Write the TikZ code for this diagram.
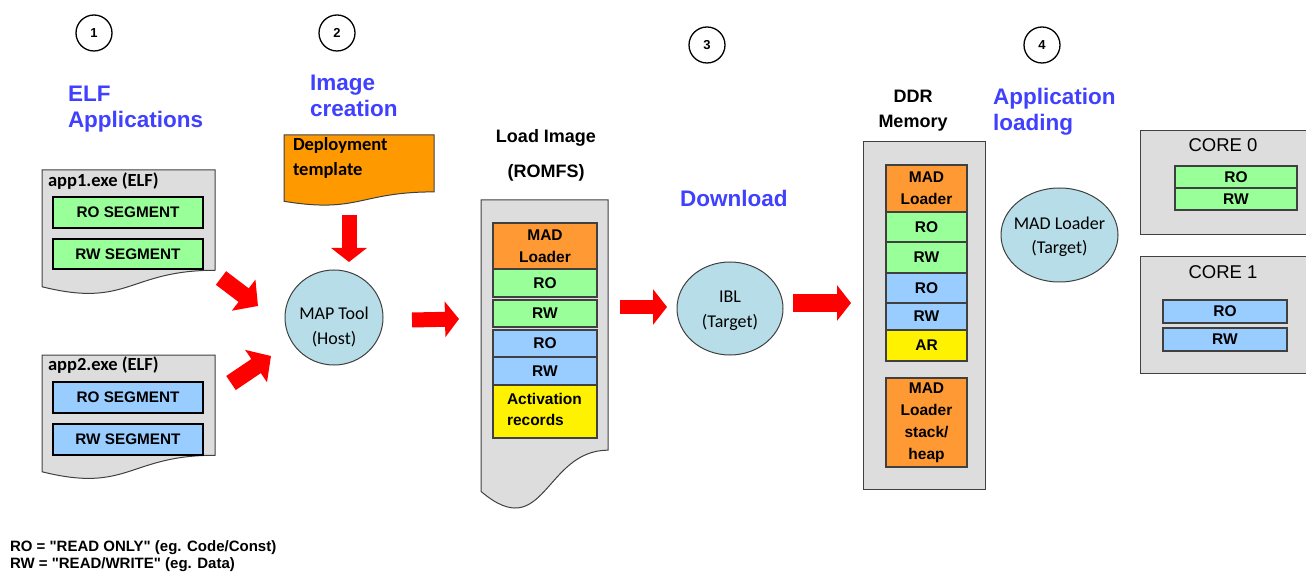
\documentclass[tikz,border=0pt]{standalone}
\usepackage{fontspec}
\setmainfont{Liberation Sans}
\newfontfamily\calibri{Carlito}
\newfontfamily\legendfont[Ligatures=TeXOff]{Liberation Sans}
\usetikzlibrary{arrows.meta,shapes.geometric}
\definecolor{hblue}{RGB}{64,64,255}
\definecolor{docgray}{RGB}{221,221,221}
\definecolor{segGreen}{RGB}{153,255,153}
\definecolor{segBlue}{RGB}{153,204,255}
\definecolor{madOrange}{RGB}{255,153,51}
\definecolor{depOrange}{RGB}{255,153,0}
\definecolor{toolFill}{RGB}{183,222,232}
\definecolor{arrowRed}{RGB}{255,0,0}
\definecolor{edgeGray}{RGB}{64,64,64}
\begin{document}
\begin{tikzpicture}[x=1pt,y=-1pt,
  every node/.style={inner sep=0pt, outer sep=0pt},
  num/.style={circle, draw=black, line width=1.3pt, fill=white, minimum size=36pt, font=\bfseries\fontsize{13}{15}\selectfont},
  heading/.style={anchor=north west, align=left, text=hblue, font=\bfseries\fontsize{22.5}{26}\selectfont},
  title/.style={anchor=north, align=center},
  docshape/.style={draw=edgeGray, line width=1pt, fill=docgray},
  seg/.style={draw=black, line width=1.2pt, minimum width=150pt, minimum height=31pt, font=\bfseries\fontsize{15.3}{18}\selectfont},
  stackbox/.style={draw=edgeGray, line width=1.2pt, align=center, font=\bfseries\fontsize{15.5}{22}\selectfont},
  tool/.style={ellipse, draw=edgeGray, line width=1pt, fill=toolFill},
  tooltext/.style={align=center, font=\calibri\fontsize{18}{24.5}\selectfont},
  doclabel/.style={anchor=west, font=\calibri\bfseries\fontsize{18.5}{22}\selectfont},
  bigarrow/.style={draw=arrowRed, line width=15pt, -{Triangle[length=14pt,width=35pt]}},
  diagarrow/.style={draw=arrowRed, line width=17pt, -{Triangle[length=18pt,width=38pt]}}
]
\useasboundingbox (0,0) rectangle (1306,577);

% step numbers
\node[num] (n1) at (94,33) {1};
\node[num] (n2) at (337,33) {2};
\node[num] (n3) at (707,45) {3};
\node[num] (n4) at (1042,45) {4};

% headings
\node[heading] (h1) at (68,86) {ELF\\Applications};
\node[heading] (h2) at (310,75) {Image\\creation};
\node[heading, anchor=west] (h3) at (680,198) {Download};
\node[heading] (h4) at (993,88) {Application\\loading};

% ELF application documents
\path[docshape] (42,170) -- (215,170) -- (215,270.25) .. controls (128.5,270.25) and (128.5,308.4) .. (42,286.75) -- cycle;
\node (app1) at (128.5,228) [minimum width=173pt, minimum height=116pt] {};
\node[doclabel] (app1l) at (48,181) {app1.exe (ELF)};
\node[seg, fill=segGreen] (a1ro) at (128,212.5) {RO SEGMENT};
\node[seg, fill=segGreen, minimum height=30pt] (a1rw) at (128,254) {RW SEGMENT};

\path[docshape] (42,355) -- (215,355) -- (215,455.25) .. controls (128.5,455.25) and (128.5,493.4) .. (42,471.75) -- cycle;
\node (app2) at (128.5,413) [minimum width=173pt, minimum height=116pt] {};
\node[doclabel] (app2l) at (48,365) {app2.exe (ELF)};
\node[seg, fill=segBlue] (a2ro) at (128,397.5) {RO SEGMENT};
\node[seg, fill=segBlue] (a2rw) at (128,439.5) {RW SEGMENT};

% deployment template
\path[docshape, fill=depOrange] (284,135) -- (434,135) -- (434,191.9) .. controls (359,191.9) and (359,213.6) .. (284,201.3) -- cycle;
\node (dep) at (359,166) [minimum width=150pt, minimum height=62pt] {};
\node[anchor=north west, align=left, font=\calibri\bfseries\fontsize{18.5}{24.5}\selectfont] (deptxt) at (293,138) {Deployment\\template};

% MAP tool
\node[tool, minimum width=98pt, minimum height=95pt] (map) at (334,317.5) {};
\node[tooltext] (maptxt) at (334,327) {MAP Tool\\(Host)};

% Load image
\node[title, font=\bfseries\fontsize{18}{35}\selectfont] (loadt) at (546,129) {Load Image\\(ROMFS)};
\path[docshape] (481,200) -- (608,200) -- (608,450.2) .. controls (544.5,450.2) and (544.5,545.5) .. (481,491.4) -- cycle;
\node (load) at (544.5,345) [minimum width=127pt, minimum height=290pt] {};
\node[stackbox, fill=madOrange, minimum width=104pt, minimum height=46pt] (lmad) at (545,246) {MAD\\Loader};
\node[stackbox, fill=segGreen, minimum width=104pt, minimum height=28pt] (lro1) at (545,283) {RO};
\node[stackbox, fill=segGreen, minimum width=104pt, minimum height=27pt] (lrw1) at (545,313.5) {RW};
\node[stackbox, fill=segBlue, minimum width=104pt, minimum height=27pt] (lro2) at (545,343.5) {RO};
\node[stackbox, fill=segBlue, minimum width=104pt, minimum height=28pt] (lrw2) at (545,371) {RW};
\node[stackbox, fill=yellow, minimum width=104pt, minimum height=53pt] (lact) at (545,411.5) {};
\node[anchor=west, align=left, font=\bfseries\fontsize{15.5}{21}\selectfont] (lacttxt) at (507,409) {Activation\\records};

% IBL
\node[tool, minimum width=106pt, minimum height=93pt] (ibl) at (730,308.5) {};
\node[tooltext] (ibltxt) at (730,311) {IBL\\(Target)};

% DDR memory
\node[title, font=\bfseries\fontsize{18}{25}\selectfont] (ddrt) at (913,90) {DDR\\Memory};
\node[docshape, minimum width=122pt, minimum height=347pt] (ddr) at (924,315.5) {};
\node[stackbox, fill=madOrange, minimum width=81pt, minimum height=47pt] (dmad) at (926.5,188.5) {MAD\\Loader};
\node[stackbox, fill=segGreen, minimum width=81pt, minimum height=30pt] (dro1) at (926.5,227) {RO};
\node[stackbox, fill=segGreen, minimum width=81pt, minimum height=31pt] (drw1) at (926.5,257.5) {RW};
\node[stackbox, fill=segBlue, minimum width=81pt, minimum height=30pt] (dro2) at (926.5,288) {RO};
\node[stackbox, fill=segBlue, minimum width=81pt, minimum height=27pt] (drw2) at (926.5,316.5) {RW};
\node[stackbox, fill=yellow, minimum width=81pt, minimum height=31pt] (dar) at (926.5,345.5) {AR};
\node[stackbox, fill=madOrange, minimum width=81pt, minimum height=89pt] (dheap) at (926.5,422.5) {MAD\\Loader\\stack/\\heap};

% MAD loader (target)
\node[tool, minimum width=117pt, minimum height=94pt] (madl) at (1059.5,235) {};
\node[tooltext] (madltxt) at (1059.5,237) {MAD Loader\\(Target)};

% cores
\node[docshape, minimum width=172pt, minimum height=104pt] (core0) at (1226,183) {};
\node[font=\fontsize{18.5}{22}\selectfont] (c0t) at (1223,145) {CORE 0};
\node[stackbox, fill=segGreen, minimum width=122pt, minimum height=22pt] (c0ro) at (1236,177) {RO};
\node[stackbox, fill=segGreen, minimum width=122pt, minimum height=22pt] (c0rw) at (1236,199) {RW};

\node[docshape, minimum width=172pt, minimum height=116pt] (core1) at (1226,315) {};
\node[font=\fontsize{18.5}{22}\selectfont] (c1t) at (1223,272) {CORE 1};
\node[stackbox, fill=segBlue, minimum width=124pt, minimum height=23pt] (c1ro) at (1225,311.5) {RO};
\node[stackbox, fill=segBlue, minimum width=124pt, minimum height=23pt] (c1rw) at (1225,339.5) {RW};

% block arrows
\coordinate (a1s) at (221,278); \coordinate (a1e) at (258,306);
\coordinate (a2s) at (231,383); \coordinate (a2e) at (271,356);
\coordinate (a3s) at (349,215); \coordinate (a3e) at (349,262);
\coordinate (a4s) at (412,320); \coordinate (a4e) at (459,319);
\coordinate (a5s) at (620,307); \coordinate (a5e) at (667,307);
\coordinate (a6s) at (793,303); \coordinate (a6e) at (851,303);
\draw[diagarrow] (a1s) -- (a1e);
\draw[diagarrow] (a2s) -- (a2e);
\draw[bigarrow] (a3s) -- (a3e);
\draw[bigarrow] (a4s) -- (a4e);
\draw[bigarrow, line width=14pt] (a5s) -- (a5e);
\draw[bigarrow, line width=17pt] (a6s) -- (a6e);

% legend
\node[anchor=north west, align=left, font=\legendfont\bfseries\fontsize{15}{17}\selectfont] (legend) at (10,541) {RO = "READ ONLY" (eg. Code/Const)\\RW = "READ/WRITE" (eg. Data)};
\end{tikzpicture}
\end{document}
